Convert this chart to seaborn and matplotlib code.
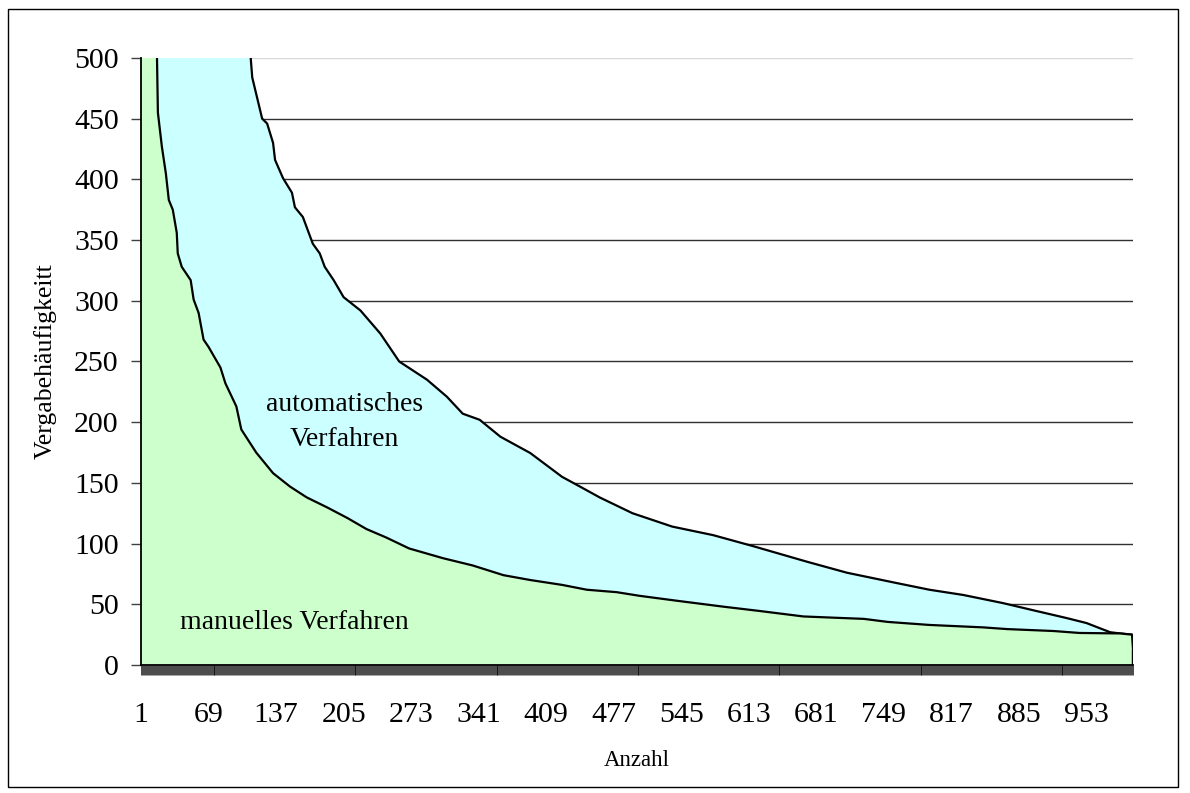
import numpy as np
import pandas as pd
import matplotlib
matplotlib.use('Agg')
import matplotlib.pyplot as plt
from matplotlib.ticker import MultipleLocator
from matplotlib.patches import Rectangle
import seaborn as sns


# number of items on the category axis and the labelled ones
n_items = 1000
tick_labels = [1, 69, 137, 205, 273, 341, 409, 477, 545, 613, 681, 749, 817, 885, 953]
y_ticks = [0, 50, 100, 150, 200, 250, 300, 350, 400, 450, 500]

# manuelles Verfahren (values above 500 are cut off)
manual_rank = [1, 17, 18, 22, 26, 29, 33, 37, 38, 42, 51, 54, 59, 64, 69, 81, 86, 97,
               102, 117, 134, 151, 168, 188, 209, 228, 248, 271, 305, 335, 366, 393,
               425, 450, 480, 503, 540, 588, 624, 668, 698, 729, 753, 795, 849, 873,
               920, 946, 987, 999, 1000]
manual_value = [900, 505, 455, 427, 405, 383, 375, 356, 339, 328, 317, 301, 290, 268,
                262, 245, 232, 213, 194, 175, 158, 147, 138, 130, 121, 112, 105, 96,
                88, 82, 74, 70, 66, 62, 60, 57, 53, 48, 44.5, 40, 39, 38, 35.5, 33,
                31, 29.6, 28, 26.4, 26, 25, 13]

# automatisches Verfahren
auto_rank = [1, 111, 113, 123, 128, 134, 136, 144, 153, 156, 164, 174, 181, 186, 195,
             205, 222, 242, 261, 289, 309, 325, 342, 363, 393, 425, 443, 463, 496,
             536, 577, 617, 672, 712, 762, 795, 829, 869, 900, 933, 953, 977, 987,
             999, 1000]
auto_value = [1500, 505, 484, 450, 446, 430, 416, 401, 389, 377, 369, 347, 339, 328,
              317, 303, 292, 273, 250, 235, 221, 207, 202, 188, 174.6, 155, 147, 138,
              125, 114, 107, 98, 85, 76, 67.5, 62, 57.7, 51, 45, 38.7, 34.6, 27, 26,
              25, 13]

manual = pd.DataFrame({'Anzahl': manual_rank, 'Wert': manual_value})
auto = pd.DataFrame({'Anzahl': auto_rank, 'Wert': auto_value})

sns.set_style('white')
plt.rcParams['font.family'] = ['Liberation Serif', 'DejaVu Serif']
plt.rcParams['text.color'] = 'black'
plt.rcParams['axes.labelcolor'] = 'black'
plt.rcParams['xtick.color'] = 'black'
plt.rcParams['ytick.color'] = 'black'

fig, ax = plt.subplots(figsize=(11.9, 7.93), dpi=100)
fig.subplots_adjust(left=0.1185, right=0.9521, bottom=0.1614, top=0.9269)

# areas: automatic behind, manual in front
ax.fill_between(auto['Anzahl'], auto['Wert'], color='#CCFFFF', zorder=1, lw=0)
sns.lineplot(data=auto, x='Anzahl', y='Wert', color='black', lw=1.6, ax=ax, zorder=2)
ax.fill_between(manual['Anzahl'], manual['Wert'], color='#CCFFCC', zorder=3, lw=0)
sns.lineplot(data=manual, x='Anzahl', y='Wert', color='black', lw=1.6, ax=ax, zorder=4)
ax.vlines(manual_rank[-1], 0, manual_value[-1], color='black', lw=2.5, zorder=4)

ax.set_xlim(1, n_items)
ax.set_ylim(0, 500)
ax.set_xticks(tick_labels)
ax.set_xticklabels([str(t) for t in tick_labels])
ax.set_yticks(y_ticks)
ax.xaxis.set_minor_locator(MultipleLocator(1))

ax.set_axisbelow(True)
ax.yaxis.grid(True, color='#303030', lw=1)
ax.xaxis.grid(False)
ax.get_ygridlines()[-1].set_color('#d8d8d8')

for side in ['top', 'right']:
    ax.spines[side].set_visible(False)
for side in ['left', 'bottom']:
    ax.spines[side].set_color('black')
    ax.spines[side].set_linewidth(1.3)
    ax.spines[side].set_zorder(5)

ax.tick_params(axis='x', which='both', bottom=True, direction='out', length=7,
               width=0.5, color='black')
ax.tick_params(axis='x', which='major', labelsize=21.5, pad=19.5, width=0.5)
ax.tick_params(axis='y', which='major', left=True, direction='out', length=7,
               width=1, color='#404040', labelsize=21.5, pad=9)

ax.set_xlabel('Anzahl', fontsize=16.5, va='center')
ax.xaxis.set_label_coords(0.5, -0.1565)
ax.set_ylabel('Vergabehäufigkeitt', fontsize=18.5, va='center')
ax.yaxis.set_label_coords(-0.0968, 0.5)

ax.text(206, 200, 'automatisches\nVerfahren', ha='center', va='center',
        fontsize=20, linespacing=1.5, zorder=6)
ax.text(40.5, 35, 'manuelles Verfahren', ha='left', va='center', fontsize=20, zorder=6)

# outer frame around the whole chart
fig.patches.append(Rectangle((8 / 1190, 6 / 793), 1170 / 1190, 778 / 793,
                             transform=fig.transFigure, fill=False,
                             edgecolor='black', lw=1))

fig.savefig('out.png', dpi=100)
